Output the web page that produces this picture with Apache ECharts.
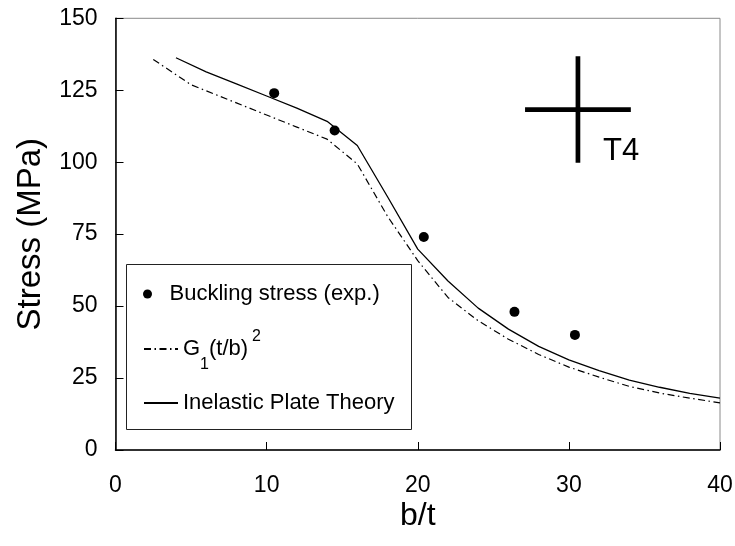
<!DOCTYPE html>
<html><head><meta charset="utf-8">
<script src="https://cdn.jsdelivr.net/npm/echarts@6/dist/echarts.min.js"></script>
<style>html,body{margin:0;padding:0;background:#fff}#c{width:735px;height:546px}</style>
</head><body><div id="c"></div>
<script>
// ---- data ----
const xTicks = [0, 10, 20, 30, 40];
const yTicks = [0, 25, 50, 75, 100, 125, 150];
const seriesNames = ['Buckling stress (exp.)', 'G1(t/b)^2', 'Inelastic Plate Theory'];
const expX = [10.5, 14.5, 20.4, 26.4, 30.4];
const expY = [124, 111, 74, 48, 40];
const ipX = [4, 6, 8, 10, 12, 14, 16, 18, 20, 22, 24, 26, 28, 30, 32, 34, 36, 38, 40];
const ipY = [136.3, 131.4, 127.2, 123, 118.8, 114.2, 105.8, 88, 69.8, 58.7, 49.3, 42, 36, 31.3, 27.6, 24.3, 21.8, 19.7, 18];
const gX = [2.5, 5, 8, 10, 12, 14, 16, 18, 20, 22, 24, 26, 28, 30, 32, 34, 36, 38, 40];
const gY = [135.7, 126.9, 120.6, 116.4, 112.2, 108, 99.4, 81.2, 65.8, 53, 44.9, 38.5, 33.2, 28.8, 25.3, 22.1, 19.8, 18, 16.4];
const crossHX = [27.1, 34.1];
const crossHY = [118.3, 118.3];
const crossVX = [30.6, 30.6];
const crossVY = [136.8, 99.8];
const annotationText = 'T4';

const FF = 'Liberation Sans, Arial, Helvetica, sans-serif';
const pairs = (xs, ys) => xs.map((x, i) => [x, ys[i]]);

const chart = echarts.init(document.getElementById('c'), null, {renderer: 'canvas'});
const baseLegend = {
  orient: 'vertical', left: 143, padding: 0, itemWidth: 34, itemGap: 0,
  selectedMode: false, z: 10,
  textStyle: {fontSize: 22, lineHeight: 30, color: '#000', fontFamily: FF}
};
const lineLegendItem = {opacity: 0, borderWidth: 0};
chart.setOption({
  backgroundColor: '#fff',
  animation: false,
  textStyle: {fontFamily: FF},
  grid: {left: 115.5, right: 15, top: 18.3, bottom: 96, show: true, borderColor: '#8a8a8a', borderWidth: 1,
         containLabel: false, outerBoundsMode: 'none'},
  xAxis: {
    type: 'value', min: xTicks[0], max: xTicks[xTicks.length - 1], interval: 10,
    name: 'b/t', nameLocation: 'middle', nameGap: 50, nameMoveOverlap: false,
    nameTextStyle: {fontSize: 32, color: '#000', fontFamily: FF},
    axisLine: {show: true, onZero: false, lineStyle: {color: '#000', width: 1.5}},
    axisTick: {show: true, inside: true, length: 8, lineStyle: {color: '#000', width: 1}},
    axisLabel: {fontSize: 23, color: '#000', margin: 24, fontFamily: FF},
    splitLine: {show: false}
  },
  yAxis: {
    type: 'value', min: yTicks[0], max: yTicks[yTicks.length - 1], interval: 25,
    name: 'Stress (MPa)', nameLocation: 'middle', nameGap: 68, nameMoveOverlap: false,
    nameTextStyle: {fontSize: 33, color: '#000', fontFamily: FF},
    axisLine: {show: true, onZero: false, lineStyle: {color: '#000', width: 1.5}},
    axisTick: {show: true, inside: true, length: 8, lineStyle: {color: '#000', width: 1}},
    axisLabel: {fontSize: 23, color: '#000', margin: 18, fontFamily: FF},
    splitLine: {show: false}
  },
  legend: [
    Object.assign({}, baseLegend, {data: [seriesNames[0]], top: 279, itemHeight: 9}),
    Object.assign({}, baseLegend, {
      data: [seriesNames[1]], top: 329, itemHeight: 14, itemStyle: lineLegendItem,
      formatter: () => '{m|G}{sub|1}{m|(t/b)}{sup|2}',
      textStyle: {color: '#000', fontFamily: FF, rich: {
        m: {fontSize: 22, lineHeight: 60, color: '#000', fontFamily: FF},
        sub: {fontSize: 16, verticalAlign: 'bottom', padding: [0, 0, 6, 0], color: '#000', fontFamily: FF},
        sup: {fontSize: 16, verticalAlign: 'top', padding: [10, 0, 0, 4], color: '#000', fontFamily: FF}
      }}
    }),
    Object.assign({}, baseLegend, {data: [seriesNames[2]], top: 388, itemHeight: 14, itemStyle: lineLegendItem})
  ],
  graphic: [
    {type: 'rect', shape: {x: 126.5, y: 264.5, width: 285, height: 165},
     style: {fill: '#fff', stroke: '#222', lineWidth: 1}, z: 1, silent: true},
    {type: 'text', x: 603, y: 151, z: 50, silent: true,
     style: {text: annotationText, fontSize: 31, fontFamily: FF, fill: '#000', verticalAlign: 'middle', align: 'left'}}
  ],
  series: [
    {name: seriesNames[0], type: 'scatter', data: pairs(expX, expY), symbol: 'circle', symbolSize: 10,
     itemStyle: {color: '#000', opacity: 1}, z: 5},
    {name: seriesNames[1], type: 'line', data: pairs(gX, gY), symbol: 'none', showSymbol: false,
     lineStyle: {color: '#000', width: 1.2, type: [7, 3.5, 1.5, 3.5]}, itemStyle: {color: '#000'}, z: 3},
    {name: seriesNames[2], type: 'line', data: pairs(ipX, ipY), symbol: 'none', showSymbol: false,
     lineStyle: {color: '#000', width: 1.3}, itemStyle: {color: '#000'}, z: 3},
    {name: 'crossH', type: 'line', data: pairs(crossHX, crossHY), symbol: 'none', silent: true,
     lineStyle: {color: '#000', width: 4.7}, z: 2},
    {name: 'crossV', type: 'line', data: pairs(crossVX, crossVY), symbol: 'none', silent: true,
     lineStyle: {color: '#000', width: 4.7}, z: 2}
  ]
});
</script>
</body></html>
